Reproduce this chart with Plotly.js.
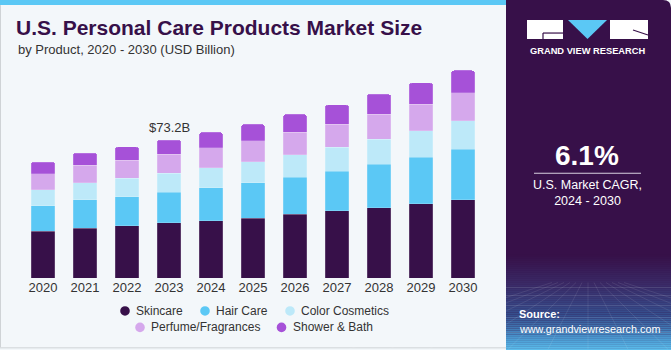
<!DOCTYPE html>
<html><head><meta charset="utf-8">
<script src="https://cdn.plot.ly/plotly-3.0.1.min.js"></script>
<style>html,body{margin:0;padding:0;background:#F3F7FA;}#chart{width:671px;height:350px;}</style>
</head><body><div id="chart"></div>
<script>
const years = ['2020','2021','2022','2023','2024','2025','2026','2027','2028','2029','2030'];
const seriesNames = ['Skincare','Hair Care','Color Cosmetics','Perfume/Fragrances','Shower & Bath'];
const skincare       = [24.7,26.5,27.8,29.4,30.3,31.8,33.8,35.6,37.3,39.4,41.5];
const hairCare       = [13.6,15.0,15.4,16.1,17.6,18.8,19.8,21.0,23.1,24.7,26.8];
const colorCosmetics = [8.5,9.2,9.7,10.0,10.6,11.1,11.8,12.7,13.4,14.1,15.1];
const perfume        = [8.5,9.2,9.7,10.1,10.6,11.1,12.0,12.4,13.2,14.1,15.0];
const showerBath     = [6.2,6.4,7.0,7.6,8.2,8.8,9.5,10.2,10.6,11.3,11.8];
const highlightYear = '2023';
const highlightLabel = '$73.2B';
const cagrValue = '6.1%';
const cagrLabel = 'U.S. Market CAGR,<br>2024 - 2030';

const colors = ['#371049','#5BC8F5','#BDE9F9','#D5A8EC','#A651D8'];
const values = [skincare,hairCare,colorCosmetics,perfume,showerBath];

const W=671,H=350,ml=22,mr=187,mt=52,mb=71.5;
const pw=W-ml-mr, ph=H-mt-mb;
const px=x=>(x-ml)/pw, py=y=>(H-mb-y)/ph;
const FONT='Liberation Sans, Arial, sans-serif';

const traces = values.map((v,i)=>({
  type:'bar', x:years, y:v, name:seriesNames[i],
  marker:{color:colors[i], line:{width:0.5,color:'rgba(255,255,255,0.35)'}},
  showlegend:false, hoverinfo:'x+y+name'
}));

const shapes=[];
const ann=[];
function rect(x0,y0,x1,y1,fill,layer,op){shapes.push({type:'rect',xref:'paper',yref:'paper',x0:px(x0),x1:px(x1),y0:py(y1),y1:py(y0),fillcolor:fill,line:{width:0},layer:layer||'below',opacity:op==null?1:op});}
function line(x0,y0,x1,y1,color,w,layer,op){shapes.push({type:'line',xref:'paper',yref:'paper',x0:px(x0),x1:px(x1),y0:py(y0),y1:py(y1),line:{color:color,width:w},layer:layer||'above',opacity:op==null?1:op});}

// left panel decorations
rect(0,0,506,5,'#5BC8F5');
line(0.5,5,0.5,348,'#cfd3d6',1,'below');
line(0,348.5,506,348.5,'#cfd3d6',1,'below');

// right panel
const P=(x,y)=>px(x).toFixed(5)+','+py(y).toFixed(5);
shapes.push({type:'path',xref:'paper',yref:'paper',path:'M'+P(506,0)+' L'+P(663,0)+' Q'+P(671,0)+' '+P(671,8)+' L'+P(671,350)+' L'+P(506,350)+' Z',fillcolor:'#371049',line:{width:0},layer:'above'});
function hex(c){return [parseInt(c.slice(1,3),16),parseInt(c.slice(3,5),16),parseInt(c.slice(5,7),16)];}
function mix(a,b,t){const A=hex(a),B=hex(b);return 'rgb('+A.map((v,i)=>Math.round(v+(B[i]-v)*t)).join(',')+')';}
const stops=[[255,'#371049'],[283,'#3a2a66'],[315,'#35508f'],[338,'#4b9ad2'],[350,'#5cc0ee']];
for(let y=255;y<350;y+=2){
  let k=0;while(k<stops.length-2&&y>=stops[k+1][0])k++;
  const t=(y-stops[k][0])/(stops[k+1][0]-stops[k][0]);
  rect(506,y,671,y+2.2,mix(stops[k][1],stops[k+1][1],Math.min(1,Math.max(0,t))),'above');
}
[288,296,306,318,333].forEach(y=>line(506,y,671,y,'#ffffff',0.6,'above',0.18));
for(let i=-6;i<=6;i++){line(588+i*6,283,588+i*40,350,'#ffffff',0.6,'above',0.15);}

// logo
rect(527,20,563,39,'#ffffff','above');
line(543,33,563,33,'#371049',1.2);
line(543,33,543,39,'#371049',1.2);
shapes.push({type:'path',xref:'paper',yref:'paper',path:'M'+P(568,20)+' L'+P(607,20)+' L'+P(587.5,39)+' Z',fillcolor:'#5BC8F5',line:{width:0},layer:'above'});
rect(610,20,648,39,'#ffffff','above');
line(633,30,648,35,'#371049',1.2);
ann.push({xref:'paper',yref:'paper',x:px(587.5),y:py(50.5),text:'<b>GRAND VIEW RESEARCH</b>',showarrow:false,font:{family:FONT,size:9.3,color:'#ffffff'},xanchor:'center',yanchor:'middle'});

// CAGR
ann.push({xref:'paper',yref:'paper',x:px(587),y:py(156),text:'<b>'+cagrValue+'</b>',showarrow:false,font:{family:FONT,size:28,color:'#ffffff'},xanchor:'center',yanchor:'middle'});
line(534,173.5,641,173.5,'#d8cfe0',1.2);
ann.push({xref:'paper',yref:'paper',x:px(587),y:py(193),text:cagrLabel,showarrow:false,font:{family:FONT,size:12.5,color:'#ffffff'},xanchor:'center',yanchor:'middle',align:'center'});
ann.push({xref:'paper',yref:'paper',x:px(517),y:py(315),text:'<b>Source:</b>',showarrow:false,font:{family:FONT,size:11,color:'#ffffff'},xanchor:'left',yanchor:'middle'});
ann.push({xref:'paper',yref:'paper',x:px(517),y:py(330),text:'www.grandviewresearch.com',showarrow:false,font:{family:FONT,size:10.8,color:'#ffffff'},xanchor:'left',yanchor:'middle'});

// subtitle
ann.push({xref:'paper',yref:'paper',x:px(16),y:py(49.5),text:'by Product, 2020 - 2030 (USD Billion)',showarrow:false,font:{family:FONT,size:13,color:'#333333'},xanchor:'left',yanchor:'middle'});

// highlight label
const hi=years.indexOf(highlightYear);
const hiTotal=values.reduce((s,v)=>s+v[hi],0);
ann.push({x:hi,y:hiTotal,xref:'x',yref:'y',text:highlightLabel,showarrow:false,xanchor:'center',yanchor:'bottom',yshift:3,font:{family:FONT,size:13,color:'#333333'}});

// legend (manual)
const legendPos=[[125,311.5],[205,311.5],[290,311.5],[140,328],[281.5,328]];
seriesNames.forEach((n,i)=>{
  const [cx,cy]=legendPos[i];
  shapes.push({type:'circle',xref:'paper',yref:'paper',x0:px(cx-4.8),x1:px(cx+4.8),y0:py(cy+4.8),y1:py(cy-4.8),fillcolor:colors[i],line:{width:0},layer:'above'});
  ann.push({xref:'paper',yref:'paper',x:px(cx+9),y:py(cy),text:n,showarrow:false,font:{family:FONT,size:12,color:'#333333'},xanchor:'left',yanchor:'middle'});
});

const layout={
  width:W,height:H,margin:{l:ml,r:mr,t:mt,b:mb,pad:0},
  paper_bgcolor:'#F3F7FA',plot_bgcolor:'rgba(0,0,0,0)',
  barmode:'stack',bargap:0.43,barcornerradius:3,
  title:{text:'<b>U.S. Personal Care Products Market Size</b>',xref:'container',yref:'container',x:16/W,y:1-28/H,xanchor:'left',yanchor:'middle',font:{family:FONT,size:21,color:'#371049'}},
  xaxis:{type:'category',range:[-0.5,10.5],showgrid:false,zeroline:false,showline:false,ticks:'',tickfont:{family:FONT,size:13,color:'#333333'},fixedrange:true},
  yaxis:{range:[0,120],visible:false,fixedrange:true},
  shapes:shapes,annotations:ann,showlegend:false
};
Plotly.newPlot('chart',traces,layout,{displayModeBar:false,staticPlot:true});
</script></body></html>
